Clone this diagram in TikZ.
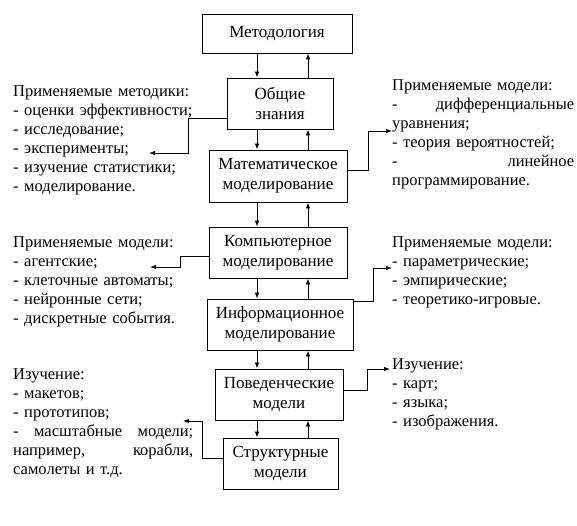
\documentclass[tikz,border=0pt]{standalone}
\usepackage{fontspec}
\setmainfont{Liberation Serif}
\usetikzlibrary{arrows.meta}
\newcommand\myfs{\fontsize{16.5}{19}\selectfont}
\newcommand\boxfs{\fontsize{17}{20}\selectfont}
\newcommand\jline[2]{\leavevmode\hbox to #1{#2}}
\begin{document}
\begin{tikzpicture}[x=1pt,y=-1pt,
  box/.style={draw, line width=0.9pt, inner sep=0pt, align=center, font=\boxfs},
  arr/.style={line width=0.8pt, -{Latex[length=6pt,width=4.5pt]}},
  txt/.style={anchor=north west, inner sep=0pt, align=left, font=\myfs, text width=182pt}]
\useasboundingbox (0,0) rectangle (577,525);
% boxes
\node[box, minimum width=150pt, minimum height=39pt] (met) at (277,33.5) {Методология};
\node[box, minimum width=106pt, minimum height=51pt] (obs) at (280,103.5) {Общие\\знания};
\node[box, minimum width=138pt, minimum height=52pt] (mat) at (278,176) {Математическое\\моделирование};
\node[box, minimum width=138pt, minimum height=51pt] (komp) at (278,252.5) {Компьютерное\\моделирование};
\node[box, minimum width=146pt, minimum height=51pt] (inf) at (280,324.5) {Информационное\\моделирование};
\node[box, minimum width=128pt, minimum height=51pt] (pov) at (279,394.5) {Поведенческие\\модели};
\node[box, minimum width=115pt, minimum height=51pt] (str) at (280.5,463.5) {Структурные\\модели};
% vertical arrows
\coordinate (dn) at (257,0);
\coordinate (up) at (308,0);
\foreach \a/\b in {met/obs, obs/mat, mat/komp, komp/inf, inf/pov, pov/str}{
  \draw[arr] (\a.south -| dn) -- (\b.north -| dn);
  \draw[arr] (\b.north -| up) -- (\a.south -| up);
}
% text blocks
\node[txt] (t1) at (13,85) {Применяемые методики:\\- оценки эффективности;\\- исследование;\\- эксперименты;\\- изучение статистики;\\- моделирование.};
\node[txt] (t2) at (392,79) {Применяемые модели:\\\jline{182pt}{-\hfill дифференциальные}\\уравнения;\\- теория вероятностей;\\\jline{182pt}{-\hfill линейное}\\программирование.};
\node[txt] (t3) at (13,236) {Применяемые модели:\\- агентские;\\- клеточные автоматы;\\- нейронные сети;\\- дискретные события.};
\node[txt] (t4) at (392,236) {Применяемые модели:\\- параметрические;\\- эмпирические;\\- теоретико-игровые.};
\node[txt] (t5) at (13,368) {Изучение:\\- макетов;\\- прототипов;\\\jline{180pt}{-\hfill масштабные\hfill модели;}\\\jline{180pt}{например,\hfill корабли,}\\самолеты и т.д.};
\node[txt] (t6) at (392,358) {Изучение:\\- карт;\\- языка;\\- изображения.};
% side connectors
\coordinate (e1) at (149,153);
\coordinate (e2) at (392,131);
\coordinate (e3) at (150,267);
\coordinate (e4) at (392,268);
\coordinate (e5) at (390,369);
\coordinate (e6) at (183,421);
\draw[arr] (obs.west |- 0,118) -| (188,153) -- (e1);
\draw[arr] (mat.east |- 0,170) -| (368,131) -- (e2);
\draw[arr] (komp.west |- 0,256) -| (180,267) -- (e3);
\draw[arr] (inf.east |- 0,301) -| (373,268) -- (e4);
\draw[arr] (pov.east |- 0,390) -| (367,369) -- (e5);
\draw[arr] (str.west |- 0,458) -| (202,421) -- (e6);
\end{tikzpicture}
\end{document}
